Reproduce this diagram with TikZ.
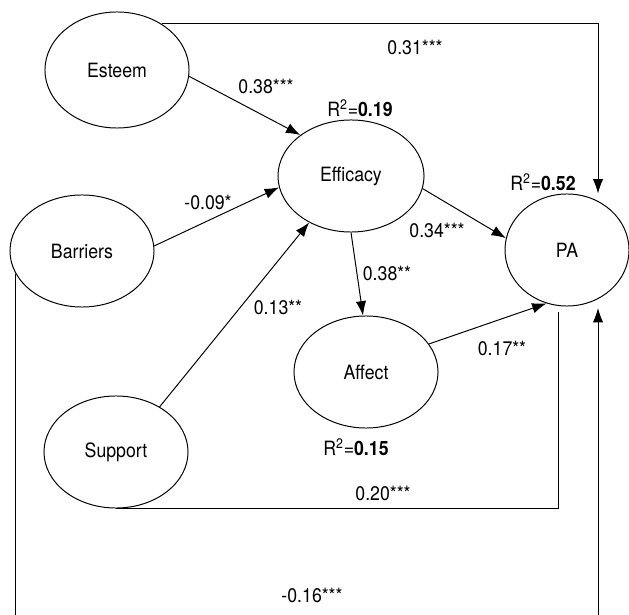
\documentclass[tikz,border=0pt]{standalone}
\usepackage{fontspec}
\setmainfont[FakeStretch=0.9]{TeX Gyre Heros}
\usepackage{tikz}
\usetikzlibrary{shapes.geometric}
\usetikzlibrary{arrows.meta}

\begin{document}
\begin{tikzpicture}[x=0.025cm, y=-0.025cm, line width=0.7pt,
 font=\fontsize{14}{16}\selectfont,
 latent/.style={ellipse, draw, inner sep=0pt, minimum width=3.6cm, minimum height=2.8cm},
 effect/.style={-{Latex[length=3.6mm,width=2.6mm]}}]

 \begin{scope}[xshift=0cm]
{
\useasboundingbox (0,0) rectangle (629,615);

\node[latent, minimum height=2.9cm] (esteem) at (117,70) {Esteem};
\node[latent] (barriers) at (82,251) {Barriers};
\node[latent, minimum width=3.65cm] (efficacy) at (351,176) {Efficacy};
\node[latent, minimum width=3.1cm] (pa) at (567,250) {PA};
\node[latent] (affect) at (366,372) {Affect};
\node[latent] (support) at (116,452) {Support};

\draw[effect] (esteem.-5) -- (efficacy.141);
\draw[effect] (barriers.4) -- (efficacy.189);
\draw[effect] (support.46) -- (efficacy.228);
\draw[effect] (efficacy.-10) -- (pa.169);
\draw[effect] (efficacy.south) -- (affect.93);
\draw[effect] (affect.24) -- (pa.249);

\coordinate (topturn) at (598,24);
\draw[effect] (esteem.46) -- (esteem.46 -| topturn) -- (topturn |- pa.north);

\coordinate (supportend) at (558,312);
\draw (support.south) -- (support.south -| supportend) -- (supportend);

% the bottom run lies under the lower edge
\coordinate (bottomturn) at (598,625);
\coordinate (paentry) at (598,308);
\draw[effect] (barriers.199) -- (barriers.199 |- bottomturn) -- (bottomturn) -- (paentry);

\node (lblTop) at (415,47) {0.31***};
\node (lblEsteem) at (266,86) {0.38***};
\node (lblBarriers) at (208,202) {-0.09*};
\node (lblSupport) at (278,307) {0.13**};
\node (lblEffPA) at (437,230) {0.34***};
\node (lblEffAff) at (387,273) {0.38**};
\node (lblAffPA) at (502,348) {0.17**};
\node (lblSuppPA) at (383,493) {0.20***};
\node (lblBarrPA) at (312,595) {-0.16***};

\node (rsqEff) at (360,108) {R\textsuperscript{2}=\textbf{0.19}};
\node (rsqPA) at (543,182) {R\textsuperscript{2}=\textbf{0.52}};
\node (rsqAff) at (356,447) {R\textsuperscript{2}=\textbf{0.15}};
}
\end{scope}

\end{tikzpicture}
\end{document}
